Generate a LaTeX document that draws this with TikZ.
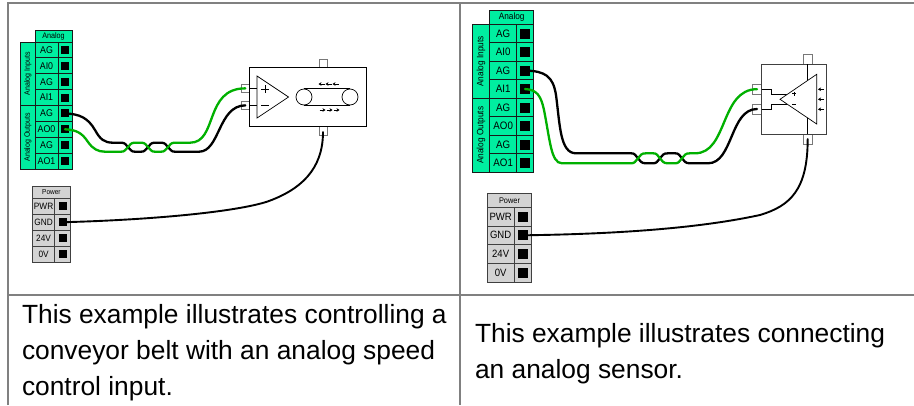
\documentclass[tikz,border=0pt]{standalone}
\usepackage{fontspec}
\setmainfont{Liberation Sans}
\newfontfamily\narrowfont[FakeStretch=0.9]{Liberation Sans}
\usetikzlibrary{arrows.meta}
\definecolor{termgreen}{RGB}{0,238,160}
\definecolor{termgray}{RGB}{211,211,211}
\definecolor{wiregreen}{RGB}{0,176,0}
\definecolor{rulegray}{RGB}{128,128,128}
\definecolor{stubgray}{RGB}{120,120,120}
\newcommand\Bx[7]{\node[#2,minimum width={(#5-#3)*1pt},minimum height={(#6-#4)*1pt}] (#1) at ({(#3+#5)/2},{(#4+#6)/2}) {#7};}
\newcommand\Fs[1]{\narrowfont\fontsize{#1}{#1}\selectfont}
\tikzset{
  x=1pt,y=-1pt,
  cellbase/.style={draw=black!90,line width=0.8pt,inner sep=0pt,outer sep=0pt,text=black},
  gcell/.style={cellbase,fill=termgreen},
  pcell/.style={cellbase,fill=termgray,draw=black!75},
  sq/.style={fill=black,draw=none,inner sep=0pt,outer sep=0pt,minimum size=#1},
  stub/.style={draw=stubgray,fill=white,line width=0.7pt,inner sep=0pt,outer sep=0pt},
  dev/.style={draw=black,line width=0.8pt,fill=white,inner sep=0pt,outer sep=0pt},
  thin line/.style={draw=black,line width=0.7pt},
  tablerule/.style={draw=rulegray,line width=2pt},
  wireb/.style={draw=black,line width=2.3pt,line cap=round},
  wireg/.style={draw=wiregreen,line width=2.3pt,line cap=round},
  tick/.style={line width=0.6pt,-{Stealth[length=3pt,width=3.6pt]}},
  caption/.style={anchor=base west,inner sep=0pt,outer sep=0pt,font=\fontsize{26.35}{26.35}\selectfont},
}
\begin{document}
\begin{tikzpicture}
\useasboundingbox (0,0) rectangle (914,405);
\fill[white] (0,0) rectangle (914,405);
% table rules
\coordinate (tl) at (8,3); \coordinate (tr) at (914,3);
\coordinate (bl) at (8,405); \coordinate (bm) at (460,405);
\coordinate (tm) at (460,3); \coordinate (ml) at (8,295); \coordinate (mr) at (914,295);
\draw[tablerule] (bl) -- (tl) -- (tr);
\draw[tablerule] (tm) -- (bm);
\draw[tablerule] (ml) -- (mr);

% ---- left analog terminal block
\Bx{lhead}{gcell,font=\Fs{8}}{35}{30.5}{72}{42}{Analog}
\Bx{lin}{gcell}{20.5}{42}{35}{105.6}{}
\Bx{lout}{gcell}{20.5}{105.6}{35}{169}{}
\node[rotate=90,font=\Fs{7.8},inner sep=0pt,text=black] (lintxt) at (lin) {Analog Inputs};
\node[rotate=90,font=\Fs{7.8},inner sep=0pt,text=black] (louttxt) at (lout) {Analog Outputs};
\foreach \t [count=\i from 0] in {AG,AI0,AG,AI1,AG,AO0,AG,AO1} {
  \pgfmathsetmacro\ya{42+15.87*\i}
  \pgfmathsetmacro\yb{42+15.87*(\i+1)}
  \Bx{la\i}{gcell,font=\Fs{9.8}}{35}{\ya}{58}{\yb}{\t}
  \Bx{lb\i}{gcell}{58}{\ya}{72}{\yb}{}
  \node[sq=8pt] (ls\i) at (lb\i) {};
}
% ---- left power block
\Bx{phead}{pcell,font=\Fs{7.2}}{32.5}{186.7}{70.3}{198.3}{Power}
\foreach \t [count=\i from 0] in {PWR,GND,24V,0V} {
  \pgfmathsetmacro\ya{198.3+15.95*\i}
  \pgfmathsetmacro\yb{198.3+15.95*(\i+1)}
  \Bx{pa\i}{pcell,font=\Fs{9.2}}{32.5}{\ya}{54.7}{\yb}{\t}
  \Bx{pb\i}{pcell}{54.7}{\ya}{70.3}{\yb}{}
  \node[sq=8pt] (ps\i) at (pb\i) {};
}
% ---- left device
\Bx{dtop}{stub}{319.3}{59.3}{327.7}{67.3}{}
\Bx{dbot}{stub}{319.3}{126.7}{327.7}{135}{}
\Bx{dplus}{stub}{241.3}{84}{249.3}{92.7}{}
\Bx{dminus}{stub}{241.3}{101}{249.3}{109.7}{}
\Bx{dbody}{dev}{249.3}{67.3}{366}{126.7}{}
\draw[thin line] (249.3,88.5) -- (257,88.5) (249.3,105.5) -- (257,105.5);
\draw[thin line] (257,76) -- (288.5,97) -- (257,118) -- cycle;
\draw[line width=0.8pt] (261,89) -- (269,89) (265,85) -- (265,93) (261,105.5) -- (269,105.5);
\draw[thin line] (304,97) circle[radius=8];
\draw[thin line] (350,97) circle[radius=8];
\draw[thin line] (304,88.8) -- (350,88.8) (304,105.2) -- (350,105.2);
\foreach \x in {324.5,331.5,338.5} \draw[tick] (\x,84) -- ++(-6,0);
\foreach \x in {319.5,326.5,333.5} \draw[tick] (\x,110) -- ++(6,0);

% ---- right analog terminal block
\Bx{rhead}{gcell,font=\Fs{9.2}}{489.7}{10.3}{533.7}{24.3}{Analog}
\Bx{rin}{gcell}{472.3}{24.3}{489.7}{98.3}{}
\Bx{rout}{gcell}{472.3}{98.3}{489.7}{172.3}{}
\node[rotate=90,font=\Fs{9.2},inner sep=0pt,text=black] (rintxt) at (rin) {Analog Inputs};
\node[rotate=90,font=\Fs{9.2},inner sep=0pt,text=black] (routtxt) at (rout) {Analog Outputs};
\foreach \t [count=\i from 0] in {AG,AI0,AG,AI1,AG,AO0,AG,AO1} {
  \pgfmathsetmacro\ya{24.3+18.5*\i}
  \pgfmathsetmacro\yb{24.3+18.5*(\i+1)}
  \Bx{ra\i}{gcell,font=\Fs{10.8}}{489.7}{\ya}{516.7}{\yb}{\t}
  \Bx{rb\i}{gcell}{516.7}{\ya}{533.7}{\yb}{}
  \node[sq=10pt] (rs\i) at (525,{(\ya+\yb)/2}) {};
}
% ---- right power block
\Bx{qhead}{pcell,font=\Fs{8.2}}{487.3}{193.3}{531.7}{207.3}{Power}
\foreach \t [count=\i from 0] in {PWR,GND,24V,0V} {
  \pgfmathsetmacro\ya{207.3+18.67*\i}
  \pgfmathsetmacro\yb{207.3+18.67*(\i+1)}
  \Bx{qa\i}{pcell,font=\Fs{10.6}}{487.3}{\ya}{514}{\yb}{\t}
  \Bx{qb\i}{pcell}{514}{\ya}{531.7}{\yb}{}
  \node[sq=10pt] (qs\i) at (522.7,{(\ya+\yb)/2}) {};
}
% ---- right device
\Bx{etop}{stub}{803}{54.3}{812.3}{64.3}{}
\Bx{ebot}{stub}{803}{134}{812.3}{144}{}
\Bx{eplus}{stub}{752.3}{84}{761.7}{94.3}{}
\Bx{eminus}{stub}{752.3}{104}{761.7}{114}{}
\Bx{ebody}{dev,draw=black!75}{761.7}{64.3}{826}{134}{}
\draw[thin line] (807.3,64.3) -- (807.3,134);
\draw[thin line] (761.7,89) -- (771,89) -- (771,94) -- (787,94);
\draw[thin line] (761.7,109) -- (771,109) -- (771,104) -- (787,104);
\draw[thin line,fill=white] (780,99.3) -- (816.7,74.3) -- (816.7,124) -- cycle;
\draw[line width=0.5pt] (792,93.5) -- (796,93.5) (794,91.5) -- (794,95.5) (792,104.5) -- (796,104.5);
\foreach \y in {89.3,99.3,109.3} \draw[tick] (824,\y) -- ++(-6,0);

% ---- wires, left
\draw[wireb] (ls4.center) .. controls (80,114) and (88,118) .. (95,130)
  .. controls (100,139) and (104,142.7) .. (113,142.7) -- (121,142.7)
  .. controls (125,142.7) and (125,144) .. (128,147)
  .. controls (131,150) and (131,151.7) .. (135,151.7) -- (141,151.7)
  .. controls (145,151.7) and (145,150) .. (148,147)
  .. controls (151,144) and (151,142.7) .. (155,142.7) -- (161,142.7)
  .. controls (165,142.7) and (165,144) .. (168,147)
  .. controls (171,150) and (171,151.7) .. (175,151.7) -- (199,151.7)
  .. controls (220,151.7) and (218,105.6) .. (dminus.center);
\draw[wireg] (ls5.center) .. controls (77,130) and (82,133) .. (88,142)
  .. controls (93,149) and (98,151.7) .. (105,151.7) -- (121,151.7)
  .. controls (125,151.7) and (125,150) .. (128,147)
  .. controls (131,144) and (131,142.7) .. (135,142.7) -- (141,142.7)
  .. controls (145,142.7) and (145,144) .. (148,147)
  .. controls (151,150) and (151,151.7) .. (155,151.7) -- (161,151.7)
  .. controls (165,151.7) and (165,150) .. (168,147)
  .. controls (171,144) and (171,142.7) .. (175,142.7) -- (190,142.7)
  .. controls (218,142.7) and (204,88.3) .. (dplus.center);
\coordinate (dbotw) at (323,132);
\draw[black,line width=1.9pt,line cap=round] (ps1.center) .. controls (150,220) and (235,212) .. (267,201.7)
  .. controls (300,190) and (323,170) .. (dbotw);

% ---- wires, right
\draw[wireb] (rs2.center) .. controls (545,71) and (553,76) .. (556,95)
  .. controls (560,125) and (560,153.3) .. (576,153.3) -- (631,153.3)
  .. controls (635,153.3) and (635,155) .. (638,158.3)
  .. controls (641,161.5) and (641,163.3) .. (646,163.3) -- (653,163.3)
  .. controls (657,163.3) and (657,161.5) .. (660,158.3)
  .. controls (663,155) and (663,153.3) .. (668,153.3) -- (675,153.3)
  .. controls (679,153.3) and (679,155) .. (682,158.3)
  .. controls (685,161.5) and (685,163.3) .. (690,163.3) -- (708,163.3)
  .. controls (733,163.3) and (730,109) .. (eminus.center);
\draw[wireg] (rs3.center) .. controls (537,89.5) and (541,96) .. (544,110)
  .. controls (550,140) and (551,163.3) .. (562,163.3) -- (631,163.3)
  .. controls (635,163.3) and (635,161.5) .. (638,158.3)
  .. controls (641,155) and (641,153.3) .. (646,153.3) -- (653,153.3)
  .. controls (657,153.3) and (657,155) .. (660,158.3)
  .. controls (663,161.5) and (663,163.3) .. (668,163.3) -- (675,163.3)
  .. controls (679,163.3) and (679,161.5) .. (682,158.3)
  .. controls (685,155) and (685,153.3) .. (690,153.3) -- (695,153.3)
  .. controls (728,153.3) and (720,89.3) .. (eplus.center);
\coordinate (ebotw) at (807.7,139);
\draw[black,line width=1.9pt,line cap=round] (qs1.center) .. controls (620,234) and (700,228) .. (760,215)
  .. controls (790,206) and (807.7,190) .. (ebotw);

% ---- captions
\node[caption] (c1) at (22,323.5) {This example illustrates controlling a};
\node[caption] (c2) at (22,359) {conveyor belt with an analog speed};
\node[caption] (c3) at (22,395) {control input.};
\node[caption] (c4) at (475,342.5) {This example illustrates connecting};
\node[caption] (c5) at (475,378) {an analog sensor.};
\end{tikzpicture}
\end{document}
